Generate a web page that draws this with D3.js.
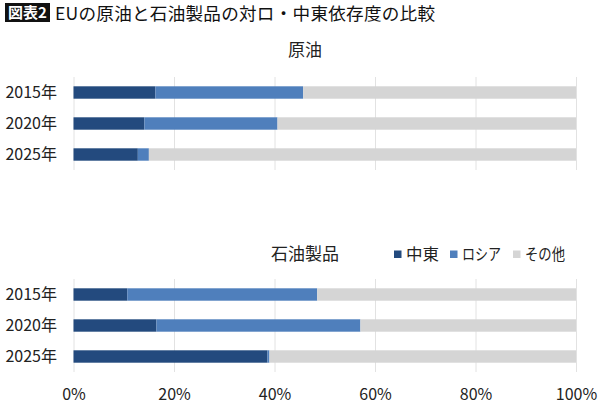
<!DOCTYPE html>
<html><head><meta charset="utf-8">
<script src="https://cdn.jsdelivr.net/npm/d3@7"></script>
<style>
html,body{margin:0;padding:0;background:#fff;}
text{font-family:"Noto Sans CJK JP","Noto Sans",sans-serif;}
</style></head>
<body><svg id="c" width="600" height="405"></svg>
<script>
const years = ["2015年", "2020年", "2025年"];
const seriesNames = ["中東", "ロシア", "その他"];
const seriesColors = ["#234a7e", "#4f7fbc", "#d5d5d5"];
const crudeME = [16.3, 14.1, 12.8];
const crudeRU = [29.4, 26.5, 2.2];
const crudeOther = [54.3, 59.4, 85.0];
const prodME = [10.7, 16.5, 38.6];
const prodRU = [37.8, 40.6, 0.4];
const prodOther = [51.5, 42.9, 61.0];
const tickValues = [0, 20, 40, 60, 80, 100];
const tickLabels = ["0%", "20%", "40%", "60%", "80%", "100%"];

const svg = d3.select("#c");
const x = d3.scaleLinear().domain([0, 100]).range([73.5, 576]);

// Title
svg.append("rect").attr("x", 5).attr("y", 3).attr("width", 45).attr("height", 19).attr("fill", "#111");
svg.append("text").attr("x", 27.5).attr("y", 18).attr("text-anchor", "middle")
  .attr("font-size", 15).attr("font-weight", "bold").attr("fill", "#fff").text("図表2");
svg.append("text").attr("x", 55).attr("y", 19.5).attr("font-size", 17.6).attr("fill", "#111")
  .attr("textLength", 380).attr("lengthAdjust", "spacing")
  .text("EUの原油と石油製品の対ロ・中東依存度の比較");

function panel(title, titleY, y0, y1, me, ru, other) {
  const rows = years.map((yr, i) => ({year: yr, "中東": me[i], "ロシア": ru[i], "その他": other[i]}));
  const y = d3.scaleBand().domain(years).range([y0, y1]).paddingInner(0.6).paddingOuter(0.3);
  const g = svg.append("g");
  g.append("text").attr("x", 305).attr("y", titleY).attr("text-anchor", "middle")
    .attr("font-size", 17).attr("fill", "#222").text(title);
  g.selectAll("line.grid").data(tickValues).join("line")
    .attr("x1", d => x(d) + 0.5).attr("x2", d => x(d) + 0.5)
    .attr("y1", y0).attr("y2", y1)
    .attr("stroke", "#e2e2e2").attr("stroke-width", 1);
  const stack = d3.stack().keys(seriesNames)(rows);
  g.selectAll("g.s").data(stack).join("g")
    .attr("fill", (d, i) => seriesColors[i])
    .selectAll("rect").data(d => d).join("rect")
    .attr("x", d => x(d[0])).attr("width", d => x(d[1]) - x(d[0]))
    .attr("y", d => y(d.data.year)).attr("height", y.bandwidth());
  const ax = d3.axisLeft(y).tickSize(0).tickPadding(0);
  const ag = g.append("g").attr("transform", "translate(57,0)").call(ax);
  ag.select(".domain").remove();
  ag.selectAll("text").attr("font-size", 16).attr("fill", "#222")
    .style("font-family", '"Noto Sans CJK JP", sans-serif');
  return y;
}

panel("原油", 56, 77, 170, crudeME, crudeRU, crudeOther);
panel("石油製品", 260, 279, 372, prodME, prodRU, prodOther);

// Legend
const legX = [394, 450, 513];
const legW = [33, 39, 40];
const lg = svg.append("g");
seriesNames.forEach((n, i) => {
  lg.append("rect").attr("x", legX[i]).attr("y", 250.5).attr("width", 7.5).attr("height", 7.5).attr("fill", seriesColors[i]);
  lg.append("text").attr("x", legX[i] + 12).attr("y", 260).attr("font-size", 16).attr("fill", "#222")
    .attr("textLength", legW[i]).attr("lengthAdjust", "spacingAndGlyphs").text(n);
});

// X axis
const xAxis = d3.axisBottom(x).tickValues(tickValues).tickFormat((d, i) => tickLabels[i]).tickSize(0).tickPadding(0);
const xg = svg.append("g").attr("transform", "translate(0,389)").call(xAxis);
xg.select(".domain").remove();
xg.selectAll("text").attr("font-size", 16).attr("fill", "#222").attr("dy", "0.71em")
  .style("font-family", '"Noto Sans CJK JP", sans-serif');
</script></body></html>
